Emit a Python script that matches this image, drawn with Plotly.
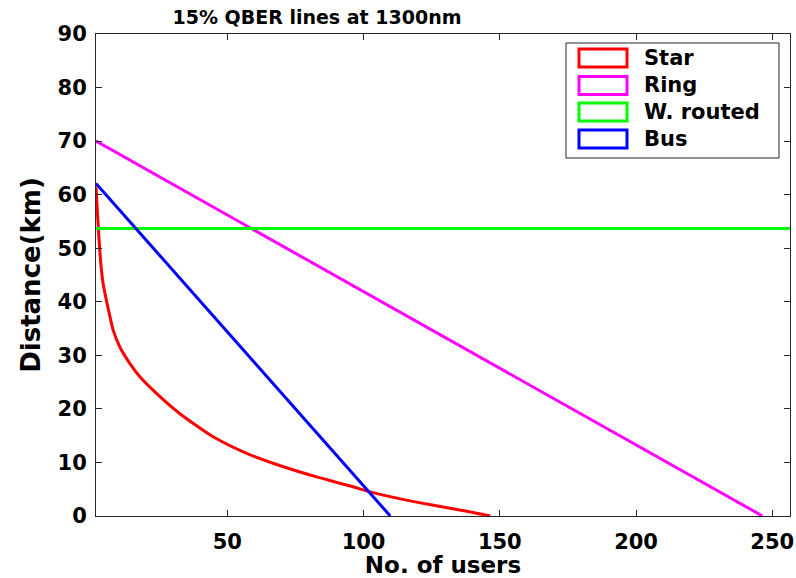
import plotly.graph_objects as go

# ---- data ----
series_names = ["Star", "Ring", "W. routed", "Bus"]
series_colors = ["#FF0000", "#FF00FF", "#00FF00", "#0000FF"]

star_x = [1.8, 2.4, 3.0, 3.6, 4.4, 5.6, 6.8, 8.1, 10.5, 14.2, 17.9, 24.0, 32.6, 44.8, 57.1,
          70.6, 82.8, 95.1, 102.4, 113.5, 125.7, 137.9, 146.5]
star_y = [61.5, 56.0, 51.0, 47.0, 43.4, 40.3, 37.5, 34.7, 31.6, 28.5, 26.0, 22.9, 19.1, 14.8, 11.7,
          9.2, 7.3, 5.6, 4.5, 3.2, 2.0, 0.9, 0.0]

ring_x = [1.8, 246.4]
ring_y = [70.0, 0.0]

wrouted_x = [1.8, 256.5]
wrouted_y = [53.7, 53.7]

bus_x = [1.8, 109.8]
bus_y = [62.1, 0.0]

x_ticks = [50, 100, 150, 200, 250]
y_ticks = [0, 10, 20, 30, 40, 50, 60, 70, 80, 90]

FONT = "DejaVu Sans"

fig = go.Figure()
all_x = [star_x, ring_x, wrouted_x, bus_x]
all_y = [star_y, ring_y, wrouted_y, bus_y]
for name, col, xs, ys in zip(series_names, series_colors, all_x, all_y):
    shape = "spline" if name == "Star" else "linear"
    fig.add_trace(go.Scatter(x=xs, y=ys, mode="lines", name=name,
                             line=dict(color=col, width=3, shape=shape, smoothing=0.6),
                             showlegend=False))

# ---- manual legend (MATLAB style rectangles) ----
L, R, T, B = 96, 790, 34, 516
def px(xp):
    return (xp - L) / (R - L)
def py(yp):
    return (B - yp) / (B - T)

shapes = [dict(type="rect", xref="paper", yref="paper",
               x0=px(566), x1=px(779), y0=py(158), y1=py(43),
               line=dict(color="#262626", width=1), fillcolor="white", layer="above")]
annotations = []
centers = [58, 85.5, 112, 139]
for name, col, cy in zip(series_names, series_colors, centers):
    shapes.append(dict(type="rect", xref="paper", yref="paper",
                       x0=px(579), x1=px(627), y0=py(cy + 9), y1=py(cy - 9),
                       line=dict(color=col, width=3), fillcolor="white", layer="above"))
    annotations.append(dict(xref="paper", yref="paper", x=px(642), y=py(cy),
                            text=name, showarrow=False, xanchor="left", yanchor="middle",
                            font=dict(family=FONT, size=21, color="black", weight="bold")))

fig.update_layout(
    width=796, height=578,
    margin=dict(l=L, r=796 - R, t=T, b=578 - B),
    paper_bgcolor="white", plot_bgcolor="white",
    showlegend=False,
    title=dict(text="15% QBER lines at 1300nm", x=px(317), xref="paper", xanchor="center",
               y=1 - 17 / 578, yref="container", yanchor="middle",
               font=dict(family=FONT, size=19, color="black", weight="bold")),
    shapes=shapes, annotations=annotations,
)
fig.update_xaxes(range=[1.8, 256.5], tickvals=x_ticks, ticks="inside", ticklen=6,
                 tickcolor="#262626", linecolor="#262626", linewidth=1, mirror="ticks",
                 showline=True, showgrid=False, zeroline=False, ticklabelstandoff=7,
                 automargin=False,
                 tickfont=dict(family=FONT, size=21, color="black", weight="bold"),
                 title=dict(text="No. of users", standoff=7,
                            font=dict(family=FONT, size=23, color="black", weight="bold")))
fig.update_yaxes(range=[0, 90], tickvals=y_ticks, ticks="inside", ticklen=6,
                 tickcolor="#262626", linecolor="#262626", linewidth=1, mirror="ticks",
                 showline=True, showgrid=False, zeroline=False, ticklabelstandoff=4,
                 automargin=False,
                 tickfont=dict(family=FONT, size=21, color="black", weight="bold"),
                 title=dict(text="Distance(km)", standoff=9,
                            font=dict(family=FONT, size=26, color="black", weight="bold")))

fig.write_html("out.html")
